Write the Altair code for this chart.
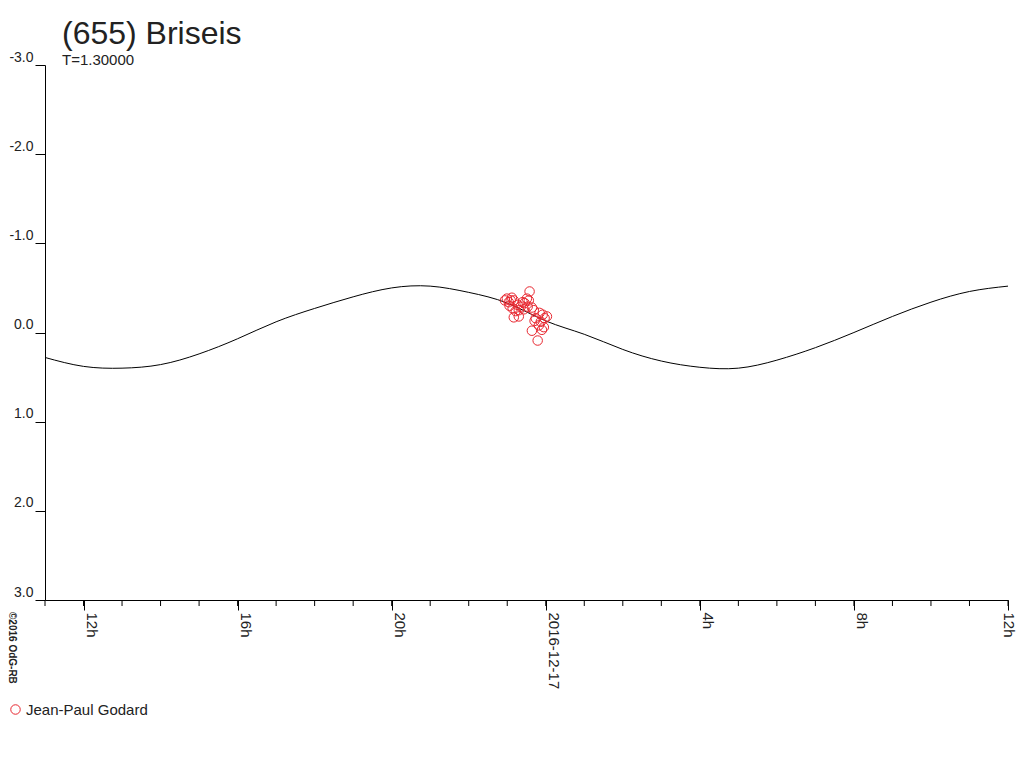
import altair as alt
import pandas as pd

# fitted light curve, read hourly (hours since 2016-12-16 00:00 UT)
curve_hours = list(range(11, 37))
curve_mag = [0.28, 0.38, 0.40, 0.36, 0.24, 0.07, -0.12, -0.27, -0.40, -0.50,
             -0.52, -0.45, -0.33, -0.13, 0.02, 0.19, 0.32, 0.39, 0.40, 0.31,
             0.17, 0.00, -0.18, -0.34, -0.46, -0.52]

# observations (hours since 2016-12-16 00:00 UT, relative magnitude)
obs_hours = [22.94, 22.99, 23.04, 23.12, 23.06, 23.17, 23.14, 23.22, 23.17, 23.30,
             23.30, 23.35, 23.40, 23.45, 23.51, 23.56, 23.58, 23.53, 23.64, 23.69,
             23.74, 23.64, 23.79, 23.82, 23.87, 23.84, 23.92, 23.97, 24.03, 23.95,
             23.90, 23.71, 23.27, 23.09, 23.43]
obs_mag = [-0.36, -0.38, -0.34, -0.39, -0.30, -0.36, -0.27, -0.24, -0.17, -0.18,
           -0.25, -0.29, -0.34, -0.33, -0.38, -0.36, -0.46, -0.29, -0.28, -0.25,
           -0.16, -0.02, 0.09, -0.08, -0.12, -0.22, -0.20, -0.16, -0.18, -0.06,
           -0.03, -0.13, -0.31, -0.36, -0.26]
observer = "Jean-Paul Godard"

minor_ticks = list(range(11, 37))
major_ticks = [12, 16, 20, 24, 28, 32, 36]
major_labels = ["12h", "16h", "20h", "2016-12-17", "4h", "8h", "12h"]
y_ticks = [-3, -2, -1, 0, 1, 2, 3]

FONT = "Liberation Sans"
TXT = "#222222"

curve_df = pd.DataFrame({"h": curve_hours, "mag": curve_mag})
obs_df = pd.DataFrame({"h": obs_hours, "mag": obs_mag, "observer": [observer] * len(obs_hours)})
minor_df = pd.DataFrame({"h": minor_ticks})

x_label_expr = " : ".join(
    f"datum.value == {v} ? '{lab}'" for v, lab in zip(major_ticks, major_labels)
) + " : ''"

x_scale = alt.Scale(domain=[11, 36], nice=False, zero=False)
y_scale = alt.Scale(domain=[-3, 3], reverse=True, nice=False, zero=False)

x_axis = alt.Axis(
    values=major_ticks,
    title=None,
    grid=False,
    domainColor="black",
    tickColor="black",
    tickSize=10,
    labelExpr=x_label_expr,
    labelAngle=90,
    labelAlign="left",
    labelBaseline="bottom",
    labelPadding=2,
    labelOffset={"condition": {"test": f"datum.value == {major_ticks[-1]}", "value": -8}, "value": 0},
    labelOverlap=False,
    labelFont=FONT,
    labelFontSize=15,
    labelColor=TXT,
    labelFlush=False,
)
y_axis = alt.Axis(
    values=y_ticks,
    title=None,
    grid=False,
    domainColor="black",
    tickColor="black",
    tickSize=10,
    labelExpr="(datum.value < 0 ? '-' : '') + format(abs(datum.value), '.1f')",
    labelBaseline="bottom",
    labelOffset=-1,
    labelPadding=2,
    labelFont=FONT,
    labelFontSize=14,
    labelColor=TXT,
    labelFlush=False,
)

line = alt.Chart(curve_df).mark_line(color="black", strokeWidth=1, clip=True, interpolate="natural").encode(
    x=alt.X("h:Q", scale=x_scale, axis=x_axis),
    y=alt.Y("mag:Q", scale=y_scale, axis=y_axis),
)

minor = alt.Chart(minor_df).mark_rule(color="black", strokeWidth=1).encode(
    x=alt.X("h:Q", scale=x_scale),
    y=alt.value(535),
    y2=alt.value(541),
)

points = alt.Chart(obs_df).mark_point(filled=False, size=90, strokeWidth=1, opacity=1, shape="circle").encode(
    x=alt.X("h:Q", scale=x_scale),
    y=alt.Y("mag:Q", scale=y_scale),
    color=alt.Color(
        "observer:N",
        scale=alt.Scale(domain=[observer], range=["#e8262f"]),
        legend=alt.Legend(
            title=None,
            orient="none",
            legendX=-37,
            legendY=637,
            padding=0,
            symbolType="circle",
            symbolSize=90,
            symbolStrokeWidth=1,
            labelFont=FONT,
            labelFontSize=15,
            labelColor=TXT,
            labelOffset=3,
        ),
    ),
)

credit = alt.Chart(pd.DataFrame({"t": ["\u00a92016 OdG-RB"]})).mark_text(
    angle=90, align="left", baseline="middle", fontSize=10, fontWeight="bold", font=FONT, color=TXT
).encode(x=alt.value(-33), y=alt.value(547), text="t:N")

chart = alt.layer(line, minor, points, credit).properties(
    width=963,
    height=535,
    padding={"left": 37, "top": 57, "right": 8, "bottom": 140},
    autosize="none",
    background="white",
    title=alt.TitleParams(
        text="(655) Briseis",
        subtitle="T=1.30000",
        anchor="start",
        frame="group",
        dx=17,
        offset=-19,
        font=FONT,
        fontSize=32,
        fontWeight="normal",
        color=TXT,
        subtitleFont=FONT,
        subtitleFontSize=15,
        subtitleColor=TXT,
        subtitlePadding=2,
    ),
).configure_view(strokeWidth=0, stroke="transparent")

chart.save("out.html", embed_options={"renderer": "svg", "actions": False})
